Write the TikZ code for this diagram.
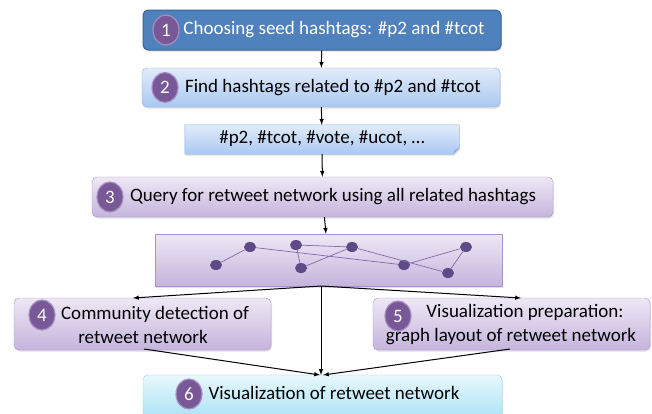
\documentclass[tikz,border=0pt]{standalone}
\usepackage{fontspec}
\setmainfont{Carlito}
\usepackage{tikz}
\usetikzlibrary{shapes.geometric, shadows}

\definecolor{darkblue}{HTML}{4F81BD}
\definecolor{darkblueline}{HTML}{3A6399}
\definecolor{bluetop}{HTML}{E2ECFA}
\definecolor{bluebot}{HTML}{A9C8F2}
\definecolor{blueline}{HTML}{86AEE0}
\definecolor{purptop}{HTML}{EEE8F5}
\definecolor{purpbot}{HTML}{C5B4DD}
\definecolor{purpline}{HTML}{A894C8}
\definecolor{cyantop}{HTML}{E8F8FD}
\definecolor{cyanbot}{HTML}{A6E1F5}
\definecolor{cyanline}{HTML}{92D3EA}
\definecolor{badgefill}{HTML}{785896}
\definecolor{badgeline}{HTML}{A68FC2}
\definecolor{dotcol}{HTML}{5E4A86}
\definecolor{edgecol}{HTML}{7E6CA8}

\begin{document}
\begin{tikzpicture}[>=latex, x=1pt, y=-1pt,
  txt/.style={font=\fontsize{19}{24}\selectfont, inner sep=0pt},
  badge/.style={ellipse, fill=badgefill, draw=badgeline, line width=1.2pt, text=white, minimum width=26pt, minimum height=30pt, inner sep=0pt, font=\fontsize{19}{22}\selectfont},
  shad/.style={drop shadow={opacity=0.25, shadow xshift=1pt, shadow yshift=-1.5pt}},
  bluebox/.style={draw=blueline, rounded corners=5pt, top color=bluetop, bottom color=bluebot, shad},
  purpbox/.style={draw=purpline, rounded corners=5pt, top color=purptop, bottom color=purpbot, shad},
  dot/.style={ellipse, fill=dotcol, minimum width=12pt, minimum height=10pt, inner sep=0pt},
  link/.style={edgecol, line width=0.7pt},
  arr/.style={->, line width=1pt}]
\useasboundingbox (0,0) rectangle (652,413);

% step 1
\node[draw=darkblueline, fill=darkblue, rounded corners=5pt, line width=1pt, minimum width=358pt, minimum height=40pt, shad] (s1) at (322,30) {};
\node[badge] (b1) at (166,30) {1};
\node[txt, text=white] (t1) at (334,30) {Choosing seed hashtags: \#p2 and \#tcot};

% step 2
\node[bluebox, minimum width=358pt, minimum height=39pt] (s2) at (321,87.5) {};
\node[badge] (b2) at (165,87.5) {2};
\node[txt] (t2) at (333,87.5) {Find hashtags related to \#p2 and \#tcot};

% related hashtags (note shape)
\node[minimum width=274pt, minimum height=29pt, inner sep=0pt] (tags) at (322,139.5) {};
\shade[top color=bluetop, bottom color=bluebot, draw=blueline, shad] (tags.north west) -- (tags.north east) -- ([yshift=6pt]tags.south east) -- ([xshift=-6pt]tags.south east) -- (tags.south west) -- cycle;
\draw[blueline, fill=bluebot!70!blue!80!white] ([yshift=6pt]tags.south east) -- ([xshift=-4pt,yshift=4pt]tags.south east) -- ([xshift=-6pt]tags.south east);
\node[txt] (t3) at (322,139) {\#p2, \#tcot, \#vote, \#ucot, \dots};

% step 3
\node[purpbox, minimum width=461pt, minimum height=40pt] (s3) at (322.5,197) {};
\node[badge] (b3) at (110,197) {3};
\node[txt] (t4) at (333,197) {Query for retweet network using all related hashtags};

% retweet network
\node[draw=purpline, top color=purptop, bottom color=purpbot, minimum width=347pt, minimum height=52pt, shad] (net) at (328.5,260) {};
\node[dot] (na) at (216,265) {};
\node[dot] (nb) at (250,247) {};
\node[dot] (nc) at (296,245) {};
\node[dot] (nd) at (301,268) {};
\node[dot] (ne) at (352,247) {};
\node[dot] (nf) at (404,265) {};
\node[dot] (ng) at (466,247) {};
\node[dot] (nh) at (448,273) {};
\draw[link] (na) -- (nb) -- (nf) -- (ng) -- (nh) -- (ne) -- (nc) -- (nd) -- (ne);

% step 4 and 5
\node[purpbox, minimum width=257pt, minimum height=52pt] (s4) at (142.5,324) {};
\node[badge] (b4) at (42,315) {4};
\node[txt, align=center] (t5) at (143,325) {\hspace*{24pt}Community detection of\\retweet network};
\node[purpbox, minimum width=277pt, minimum height=52pt] (s5) at (511.5,324) {};
\node[badge] (b5) at (398,316) {5};
\node[txt, align=center] (t6) at (511,325) {\hspace*{28pt}Visualization preparation:\\graph layout of retweet network};

% step 6
\node[draw=cyanline, rounded corners=5pt, top color=cyantop, bottom color=cyanbot, minimum width=359pt, minimum height=46pt, shad] (s6) at (322.5,398) {};
\node[badge] (b6) at (189,394) {6};
\node[txt] (t7) at (334,393) {Visualization of retweet network};

% arrows
\coordinate (split) at (321,286);
\coordinate (in4) at (133,298);
\coordinate (in5) at (521,298);
\coordinate (out4) at (144,349);
\coordinate (out5) at (510,349);
\coordinate (in6) at (321,375);
\draw[arr] (s1) -- (s2);
\draw[arr] (s2) -- (tags);
\draw[arr] (tags) -- (s3);
\draw[arr] (s3) -- (net);
\draw[arr] (split) -- (in4);
\draw[arr] (split) -- (in5);
\draw[arr] (split) -- (in6);
\draw[arr] (out4) -- ([xshift=-1pt]in6);
\draw[arr] (out5) -- ([xshift=2pt]in6);
\end{tikzpicture}
\end{document}
